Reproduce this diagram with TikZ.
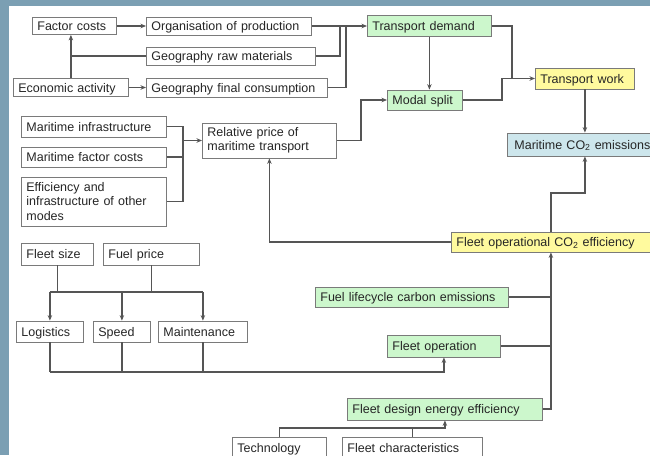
\documentclass[tikz,border=0pt]{standalone}
\usepackage{fontspec}
\setmainfont{Liberation Sans}
\usepackage{xcolor}
\definecolor{frame}      {HTML}{7B9FB3}
\definecolor{boxLine}    {HTML}{7A7A7A}
\definecolor{linkGray}   {HTML}{555555}
\definecolor{inkText}    {HTML}{262626}
\definecolor{greenBack}  {HTML}{CCF7CC}
\definecolor{yellowBack} {HTML}{FFFA9E}
\definecolor{blueBack}   {HTML}{CDE6EC}
\usetikzlibrary{arrows.meta}
\tikzset{
    cbase/.style={draw=boxLine, line width=0.8pt, anchor=west, align=left,
                  inner xsep=5pt, inner ysep=0pt, text=inkText,
                  font=\fontsize{12.5}{14.3}\selectfont},
    cbox/.style={cbase, text height=9pt, text depth=0pt},
    cgreen/.style={cbox, fill=greenBack},
    cyellow/.style={cbox, fill=yellowBack},
    cblue/.style={cbox, fill=blueBack},
    flink/.style={->, >={Stealth[length=5.5pt, width=4.5pt]}, line width=1.2pt,
                  draw=linkGray},
    fjoin/.style={-, line width=1.2pt, draw=linkGray},
}

\begin{document}
\begin{tikzpicture}[x=1pt, y=-1pt]
\clip (0,0) rectangle (650,455);
\fill[white] (0,0) rectangle (650,455);
\fill[frame] (0,0) rectangle (9,455);
\fill[frame] (0,0) rectangle (650,6);

% --- demand side ---
\node[cbox, text width=74pt, minimum height=17pt] (fcost) at (32,26) {Factor costs};
\node[cbox, text width=155pt, minimum height=18pt] (org) at (146,26) {Organisation of production};
\node[cbox, text width=159pt, minimum height=18pt] (georaw) at (146,56) {Geography raw materials};
\node[cbox, text width=105pt, minimum height=18pt] (econ) at (13,87.5) {Economic activity};
\node[cbox, text width=171pt, minimum height=19pt] (geofin) at (146,87.5) {Geography final consumption};

\node[cgreen, text width=114pt, minimum height=21pt] (tdem) at (367,26) {Transport demand};
\node[cgreen, text width=65pt, minimum height=20pt] (msplit) at (387,100) {Modal split};
\node[cyellow, text width=89pt, minimum height=21pt] (twork) at (535,78.5) {Transport work};
\node[cblue, text width=137pt, minimum height=23pt, inner xsep=3pt] (co2) at (507,144.5)
    {\mbox{\hspace*{4pt}Maritime CO\textsubscript{2} emissions}};

% --- relative price ---
\node[cbox, text width=135pt, minimum height=21pt] (minfra) at (21,126.5) {Maritime infrastructure};
\node[cbox, text width=135pt, minimum height=20pt] (mfac) at (21,157) {Maritime factor costs};
\node[cbase, text width=135pt, minimum height=49pt] (effic) at (21,201.5)
    {Efficiency and\\infrastructure of other\\modes};
\node[cbase, text width=124pt, minimum height=35pt] (relp) at (202,140.5)
    {Relative price of\\maritime transport};

% --- fleet ---
\node[cyellow, text width=189pt, minimum height=20pt] (fop) at (451,242)
    {Fleet operational CO\textsubscript{2} efficiency};
\node[cgreen, text width=183pt, minimum height=20pt] (fuel) at (315,297) {Fuel lifecycle carbon emissions};
\node[cbox, text width=62pt, minimum height=22pt] (fsize) at (21,254) {Fleet size};
\node[cbox, text width=86pt, minimum height=22pt] (fprice) at (103,254) {Fuel price};
\node[cbox, text width=57pt, minimum height=21pt] (logi) at (16,331.5) {Logistics};
\node[cbox, text width=47pt, minimum height=21pt] (speed) at (93,331.5) {Speed};
\node[cbox, text width=79pt, minimum height=21pt] (maint) at (158,331.5) {Maintenance};
\node[cgreen, text width=103pt, minimum height=22pt] (fleetop) at (387,346) {Fleet operation};
\node[cgreen, text width=185pt, minimum height=22pt] (fdes) at (347,409) {Fleet design energy efficiency};
\node[cbox, text width=84pt, minimum height=22pt] (tech) at (232,448) {Technology};
\node[cbox, text width=130pt, minimum height=22pt] (fchar) at (342,448) {Fleet characteristics};

% junction columns and rows
\coordinate (jraw)   at (340,0);
\coordinate (jfin)   at (346,0);
\coordinate (jsplit) at (502,0);
\coordinate (jwork)  at (512,0);
\coordinate (jprice) at (361,0);
\coordinate (jmar)   at (183,0);
\coordinate (jeff)   at (0,193);
\coordinate (jtop)   at (0,292);
\coordinate (jlow)   at (0,372);
\coordinate (jdes)   at (0,428);

% demand side links
\draw[flink] (fcost) -- (org);
\draw[flink] (econ.north) -- (econ.north |- fcost.south);
\draw[fjoin] (georaw.west) -- (georaw.west -| econ.north);
\draw[flink] (econ) -- (geofin);
\draw[flink] (org) -- (tdem);
\draw[fjoin] (georaw.east) -| (jraw |- tdem.west);
\draw[fjoin] (geofin.east) -| (jfin |- tdem.west);

\draw[flink] (tdem.south) -- (tdem.south |- msplit.north);
\draw[fjoin] (tdem.east) -| (jwork |- twork.west);
\draw[flink] (msplit.east) -| (jsplit |- twork.west) -- (twork.west);
\draw[flink] (twork.south) -- (twork.south |- co2.north);

% relative price links
\draw[fjoin] (minfra.east) -| (jmar |- relp.west);
\draw[fjoin] (mfac.east) -| (jmar |- relp.west);
\draw[fjoin] (effic.east) -| (jmar |- relp.west);
\draw[flink] (jmar |- relp.west) -- (relp.west);
\draw[flink] (relp.east) -| (jprice |- msplit.west) -- (msplit.west);

% fleet links
\draw[flink] (fop.west) -| (relp.south);
\draw[flink] (fop.north) -- (fop.north |- jeff) -| (twork.south |- co2.south);
\draw[fjoin] (fuel.east) -- (fuel.east -| fop.south);
\draw[fjoin] (fleetop.east) -- (fleetop.east -| fop.south);
\draw[flink] (fdes.east) -| (fop.south);

\draw[fjoin] (fsize.south) -- (fsize.south |- jtop);
\draw[fjoin] (fprice.south) -- (fprice.south |- jtop);
\draw[fjoin] (logi.north |- jtop) -- (maint.north |- jtop);
\foreach \n in {logi, speed, maint} {
    \draw[flink] (\n.north |- jtop) -- (\n.north);
    \draw[fjoin] (\n.south) -- (\n.south |- jlow);
}
\draw[flink] (logi.south |- jlow) -| (fleetop.south);

\draw[fjoin] (fchar.north) -- (fchar.north |- jdes);
\draw[flink] (tech.north) -- (tech.north |- jdes) -| (fdes.south);
\end{tikzpicture}
\end{document}
